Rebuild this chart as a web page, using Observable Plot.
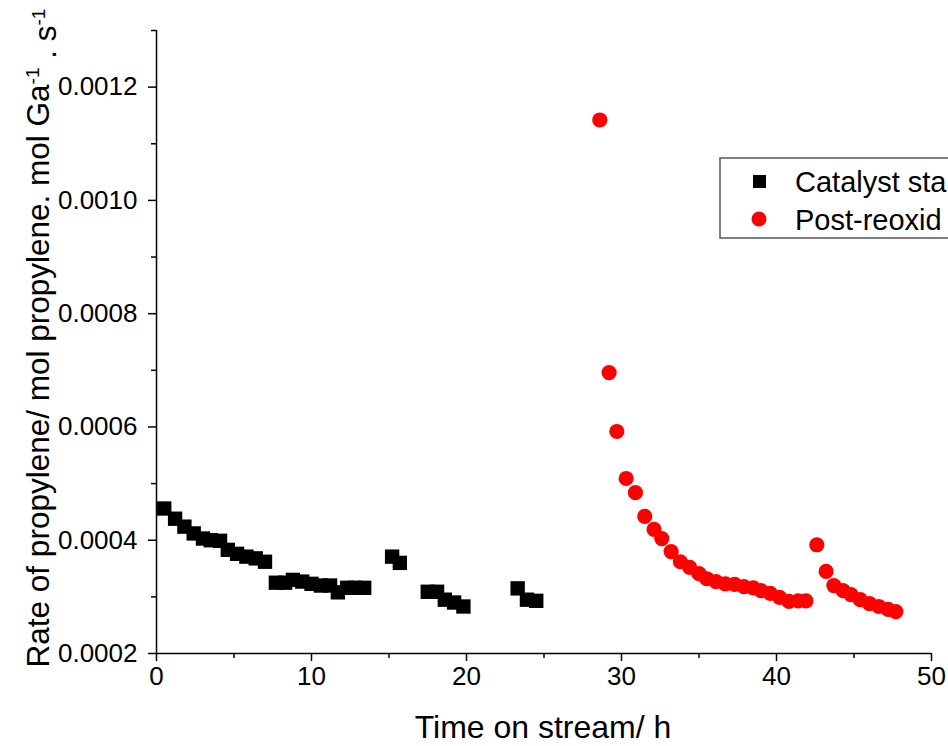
<!DOCTYPE html>
<html>
<head>
<meta charset="utf-8">
<script src="https://cdn.jsdelivr.net/npm/d3@7"></script>
<script src="https://cdn.jsdelivr.net/npm/@observablehq/plot@0.6"></script>
<style>
  html, body { margin: 0; padding: 0; background: #fff; }
  #chart { width: 948px; height: 746px; overflow: hidden; }
</style>
</head>
<body>
<div id="chart"></div>
<script>
// Series 1: Catalyst stability (black squares)
const catTime = [0.5, 1.2, 1.8, 2.4, 3.0, 3.5, 4.1, 4.6, 5.2, 5.8, 6.4, 7.0, 7.7, 8.3, 8.8, 9.4, 10.0, 10.6, 11.2, 11.7, 12.3, 12.8, 13.4, 15.2, 15.7, 17.5, 18.1, 18.6, 19.2, 19.8, 23.3, 23.9, 24.5];
const catRate = [0.000456, 0.000438, 0.000424, 0.000412, 0.000403, 0.000400, 0.000399, 0.000383, 0.000376, 0.000371, 0.000368, 0.000362, 0.000325, 0.000325, 0.000330, 0.000327, 0.000323, 0.000320, 0.000320, 0.000308, 0.000316, 0.000316, 0.000316, 0.000371, 0.000360, 0.000309, 0.000309, 0.000295, 0.000290, 0.000283, 0.000315, 0.000295, 0.000293];
// Series 2: Post-reoxidation (red circles)
const postTime = [28.6, 29.2, 29.7, 30.3, 30.9, 31.5, 32.1, 32.6, 33.2, 33.8, 34.4, 35.0, 35.5, 36.1, 36.7, 37.3, 37.9, 38.5, 39.0, 39.6, 40.2, 40.8, 41.4, 41.9, 42.6, 43.2, 43.7, 44.3, 44.8, 45.4, 46.0, 46.6, 47.2, 47.7];
const postRate = [0.001142, 0.000696, 0.000592, 0.000509, 0.000484, 0.000442, 0.000419, 0.000403, 0.000380, 0.000362, 0.000352, 0.000341, 0.000332, 0.000327, 0.000323, 0.000322, 0.000318, 0.000316, 0.000311, 0.000306, 0.000299, 0.000292, 0.000293, 0.000293, 0.000392, 0.000345, 0.000320, 0.000311, 0.000304, 0.000295, 0.000288, 0.000283, 0.000278, 0.000274];

// Legend labels as visible in the (right-cropped) reference
const seriesNames = ["Catalyst sta", "Post-reoxid"];
const xMajor = [0, 10, 20, 30, 40, 50];
const xMinor = [5, 15, 25, 35, 45];
const yMajor = [0.0002, 0.0004, 0.0006, 0.0008, 0.0010, 0.0012];
const yMinor = [0.0003, 0.0005, 0.0007, 0.0009, 0.0011, 0.0013];
const xTitle = "Time on stream/ h";

const cat = catTime.map((t, i) => ({t, v: catRate[i]}));
const post = postTime.map((t, i) => ({t, v: postRate[i]}));

const FONT = "Liberation Sans, Arial, sans-serif";

const chart = Plot.plot({
  width: 948,
  height: 746,
  marginLeft: 156,
  marginRight: 17,
  marginTop: 30,
  marginBottom: 93,
  style: {fontFamily: FONT, fontSize: "26px", color: "black", background: "white"},
  x: {domain: [0, 50]},
  y: {domain: [0.0002, 0.0013]},
  marks: [
    Plot.axisX(xMajor, {tickSize: 8, tickPadding: 5, strokeWidth: 1.5, label: null, tickFormat: d => String(d), fontSize: 26}),
    Plot.axisX(xMinor, {tickSize: 5, strokeWidth: 1.5, label: null, tickFormat: () => ""}),
    Plot.axisY(yMajor, {tickSize: 8, tickPadding: 11, strokeWidth: 1.5, label: null, tickFormat: d3.format(".4f"), fontSize: 26}),
    Plot.axisY(yMinor, {tickSize: 5, strokeWidth: 1.5, label: null, tickFormat: () => ""}),
    Plot.ruleX([0], {strokeWidth: 1.5}),
    Plot.ruleY([0.0002], {strokeWidth: 1.5}),
    Plot.dot(cat, {x: "t", y: "v", symbol: "square", r: 8.1, fill: "black", stroke: "none"}),
    Plot.dot(post, {x: "t", y: "v", symbol: "circle", r: 7.6, fill: "#ff0000", stroke: "none"})
  ]
});

document.getElementById("chart").appendChild(chart);

const svg = d3.select(chart);

// X axis title
svg.append("text")
  .attr("x", 543).attr("y", 738)
  .attr("text-anchor", "middle")
  .style("font-family", FONT).style("font-size", "32px").attr("fill", "black")
  .text(xTitle);

// Y axis title with superscripts
const yt = svg.append("text")
  .attr("transform", "translate(49,338) rotate(-90)")
  .attr("text-anchor", "middle")
  .style("font-family", FONT).style("font-size", "31.5px").attr("fill", "black");
yt.append("tspan").text("Rate of propylene/ mol propylene. mol Ga");
yt.append("tspan").attr("dy", "-0.55em").style("font-size", "19px").text("-1");
yt.append("tspan").attr("dy", "0.55em").text(" . s");
yt.append("tspan").attr("dy", "-0.55em").style("font-size", "19px").text("-1");

// Legend
const lg = svg.append("g");
lg.append("rect").attr("x", 720).attr("y", 158).attr("width", 300).attr("height", 80)
  .attr("fill", "white").attr("stroke", "#555").attr("stroke-width", 1.5);
lg.append("rect").attr("x", 753).attr("y", 175).attr("width", 13).attr("height", 13).attr("fill", "black");
lg.append("circle").attr("cx", 759).attr("cy", 219).attr("r", 7.5).attr("fill", "#ff0000");
lg.selectAll("text.lg").data(seriesNames).join("text")
  .attr("class", "lg")
  .attr("x", 795).attr("y", (d, i) => 192 + i * 38)
  .attr("text-anchor", "start")
  .style("font-family", FONT).style("font-size", "29px").attr("fill", "black")
  .text(d => d);
</script>
</body>
</html>
